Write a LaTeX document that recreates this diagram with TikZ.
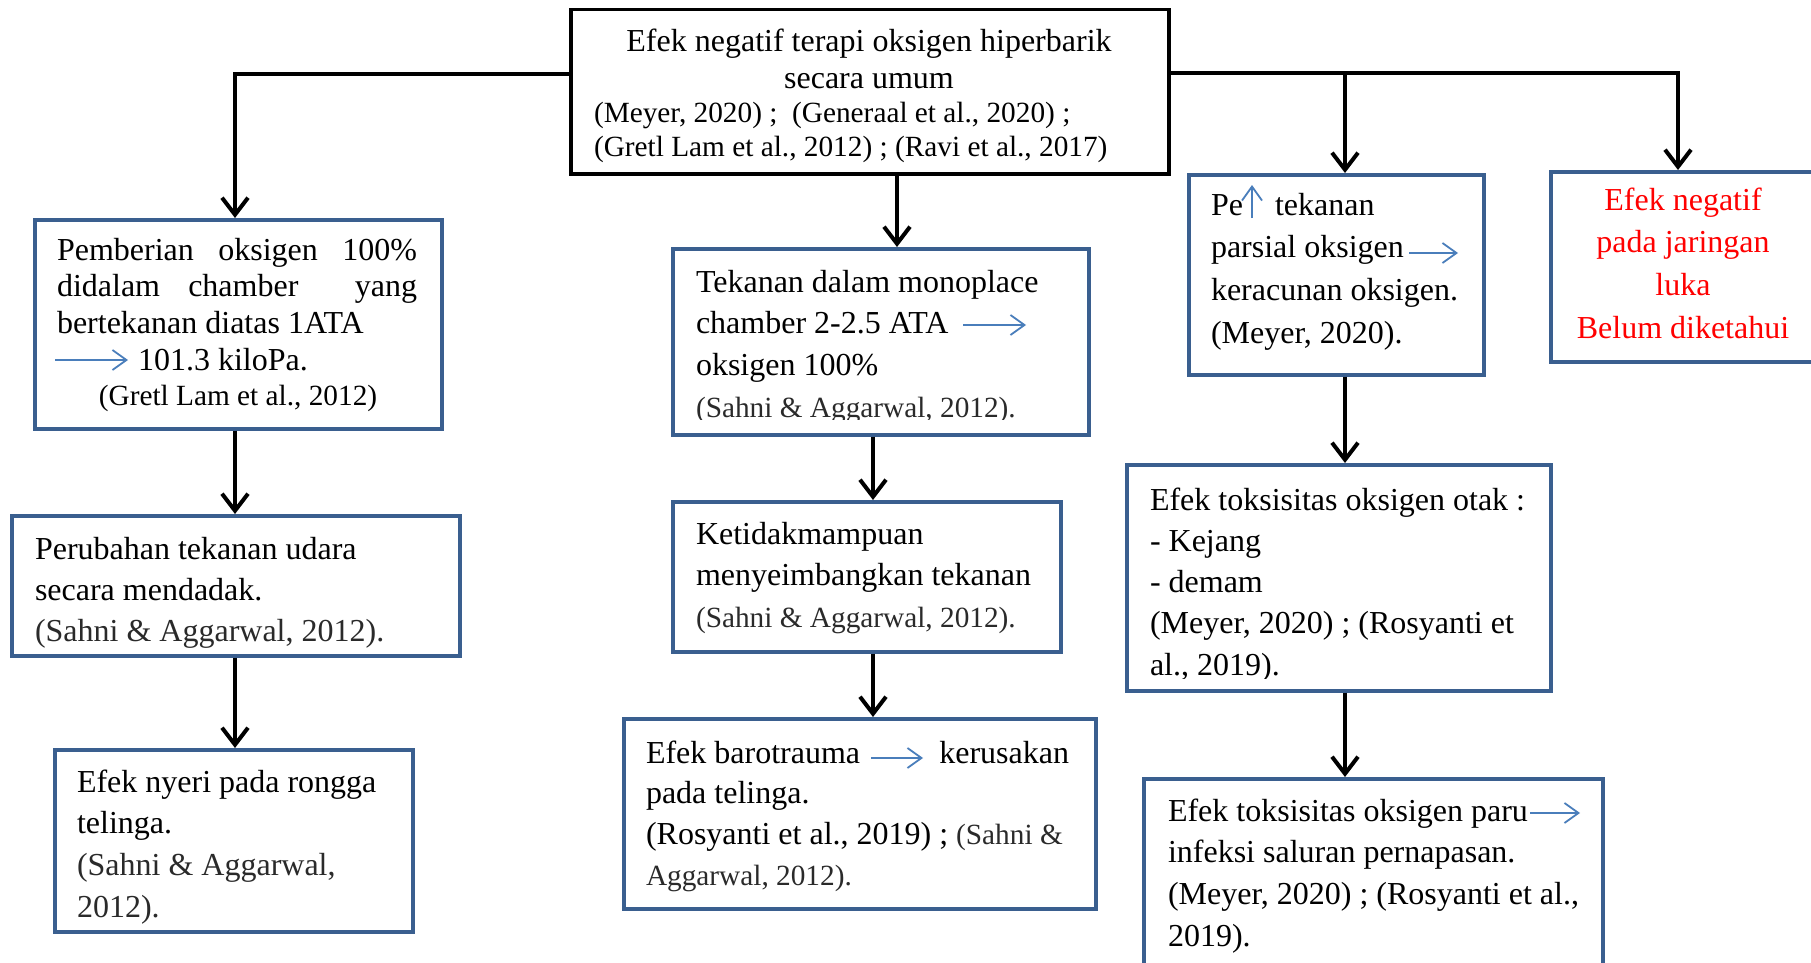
\documentclass[tikz,border=0pt]{standalone}
\usepackage{fontspec}
\setmainfont{Liberation Serif}
\usetikzlibrary{arrows.meta,calc}
\definecolor{boxblue}{HTML}{3A5F8F}
\definecolor{arrblue}{HTML}{4A7EBB}
\definecolor{citegray}{HTML}{2A2A2A}
\newcommand{\msz}[1]{\fontsize{32}{#1}\selectfont}
\newcommand{\csz}{\fontsize{29.3}{29.3}\selectfont}
\tikzset{
  box/.style={draw=boxblue, line width=3.5pt, anchor=north west, inner sep=0pt, fill=white},
  topbox/.style={box, draw=black},
  txt/.style={anchor=base west, inner sep=0pt, outer sep=0pt},
  ctxt/.style={anchor=base, inner sep=0pt, outer sep=0pt},
  conn/.style={line width=4pt, -{Straight Barb[length=17pt,width=26pt]}},
  tarr/.style={arrblue, line width=1.8pt, -{Straight Barb[length=14pt,width=20pt]}},
}
\begin{document}
\begin{tikzpicture}[x=1pt,y=-1pt]
\useasboundingbox (0,0) rectangle (1811,963);
\clip (0,0) rectangle (1811,963);
% boxes
\node[topbox, minimum width=598pt, minimum height=164pt] (top) at (569,8) {};
\node[box, minimum width=407pt, minimum height=209pt] (L1) at (33,218) {};
\node[box, minimum width=448pt, minimum height=140pt] (L2) at (10,514) {};
\node[box, minimum width=358pt, minimum height=182pt] (L3) at (53,748) {};
\node[box, minimum width=416pt, minimum height=186pt] (M1) at (671,247) {};
\node[box, minimum width=388pt, minimum height=150pt] (M2) at (671,500) {};
\node[box, minimum width=472pt, minimum height=190pt] (M3) at (622,717) {};
\node[box, minimum width=295pt, minimum height=200pt] (R1) at (1187,173) {};
\node[box, minimum width=266pt, minimum height=190pt] (red) at (1549,170) {};
\node[box, minimum width=424pt, minimum height=226pt] (R2) at (1125,463) {};
\node[box, minimum width=459pt, minimum height=240pt] (R3) at (1142,777) {};
% columns
\coordinate (colL) at (235,0);
\coordinate (colTM) at (897,0);
\coordinate (colM) at (873,0);
\coordinate (colR) at (1345,0);
\coordinate (colRR) at (1678,0);
\coordinate (jl) at ([yshift=18pt]top.west);
\coordinate (jr) at ([yshift=19pt]top.east);
% connectors
\draw[conn] (jl) -| (colL |- L1.north);
\draw[conn] (colL |- L1.south) -- (colL |- L2.north);
\draw[conn] (colL |- L2.south) -- (colL |- L3.north);
\draw[conn] (colTM |- top.south) -- (colTM |- M1.north);
\draw[conn] (colM |- M1.south) -- (colM |- M2.north);
\draw[conn] (colM |- M2.south) -- (colM |- M3.north);
\draw[conn] (jr) -| (colRR |- red.north);
\draw[conn] (jr -| colR) -- (colR |- R1.north);
\draw[conn] (colR |- R1.south) -- (colR |- R2.north);
\draw[conn] (colR |- R2.south) -- (colR |- R3.north);
% texts
\node[ctxt] (topt) at (869,52) {\parbox[t]{580pt}{\centering\msz{37}Efek negatif terapi oksigen hiperbarik\\secara umum}};
\node[txt] (topc) at (594,122) {\parbox[t]{570pt}{\raggedright\fontsize{29.3}{34}\selectfont (Meyer, 2020) ;~\ (Generaal et al., 2020) ;\\(Gretl Lam et al., 2012) ; (Ravi et al., 2017)}};
\node[txt] (L1t) at (57,260) {\parbox[t]{360pt}{\msz{36.7}\makebox[360pt][s]{Pemberian\hfill oksigen\hfill 100\%}\\\makebox[360pt][s]{didalam\hfill chamber\hfill\hfill yang}\\bertekanan diatas 1ATA\\\hspace*{81pt}101.3 kiloPa.}};
\node[ctxt] (L1c) at (238,405) {\csz (Gretl Lam et al., 2012)};
\node[txt] (L2t) at (35,559) {\parbox[t]{420pt}{\raggedright\msz{41}Perubahan tekanan udara\\secara mendadak.\\{\color{citegray}(Sahni \& Aggarwal, 2012).}}};
\node[txt] (L3t) at (77,792) {\parbox[t]{330pt}{\raggedright\msz{41.7}Efek nyeri pada rongga\\telinga.\\{\color{citegray}(Sahni \& Aggarwal,\\2012).}}};
\begin{scope}
\clip (671,247) rectangle (1087,419);
\node[txt] (M1t) at (696,292) {\parbox[t]{390pt}{\raggedright\msz{41.7}Tekanan dalam monoplace\\chamber 2-2.5 ATA\\oksigen 100\%\\{\csz\color{citegray}(Sahni \& Aggarwal, 2012).}}};
\end{scope}
\node[txt] (M2t) at (696,544) {\parbox[t]{360pt}{\raggedright\msz{41.5}Ketidakmampuan\\menyeimbangkan tekanan\\{\csz\color{citegray}(Sahni \& Aggarwal, 2012).}}};
\node[txt] (M3t) at (646,763) {\parbox[t]{440pt}{\raggedright\msz{40.7}\makebox[423pt][s]{Efek barotrauma\hfill kerusakan}\\pada telinga.\\(Rosyanti et al., 2019) ; {\csz\color{citegray}(Sahni \&}\\{\csz\color{citegray}Aggarwal, 2012).}}};
\node[txt] (R1t) at (1211,215) {\parbox[t]{270pt}{\raggedright\msz{42.7}Pe\hspace*{32pt}tekanan\\parsial oksigen\\keracunan oksigen.\\(Meyer, 2020).}};
\node[ctxt] (redt) at (1683,210) {\parbox[t]{260pt}{\centering\msz{42.7}\leavevmode\color{red}Efek negatif\\pada jaringan\\luka\\Belum diketahui}};
\begin{scope}
\clip (1125,463) rectangle (1549,678);
\node[txt] (R2t) at (1150,510) {\parbox[t]{400pt}{\raggedright\msz{41.25}Efek toksisitas oksigen otak :\\- Kejang\\- demam\\(Meyer, 2020) ; (Rosyanti et\\al., 2019).}};
\end{scope}
\node[txt] (R3t) at (1168,821) {\parbox[t]{430pt}{\raggedright\msz{41.7}Efek toksisitas oksigen paru\\infeksi saluran pernapasan.\\(Meyer, 2020) ; (Rosyanti et al.,\\2019).}};
% small blue arrows inside texts
\draw[tarr] (55,360) -- (128,360);
\draw[tarr] (963,325) -- (1026,325);
\draw[tarr] (871,758) -- (923,758);
\draw[tarr] (1409,253) -- (1458,253);
\draw[tarr] (1530,813) -- (1580,813);
\draw[tarr] (1252,218) -- (1252,185);
\end{tikzpicture}
\end{document}
